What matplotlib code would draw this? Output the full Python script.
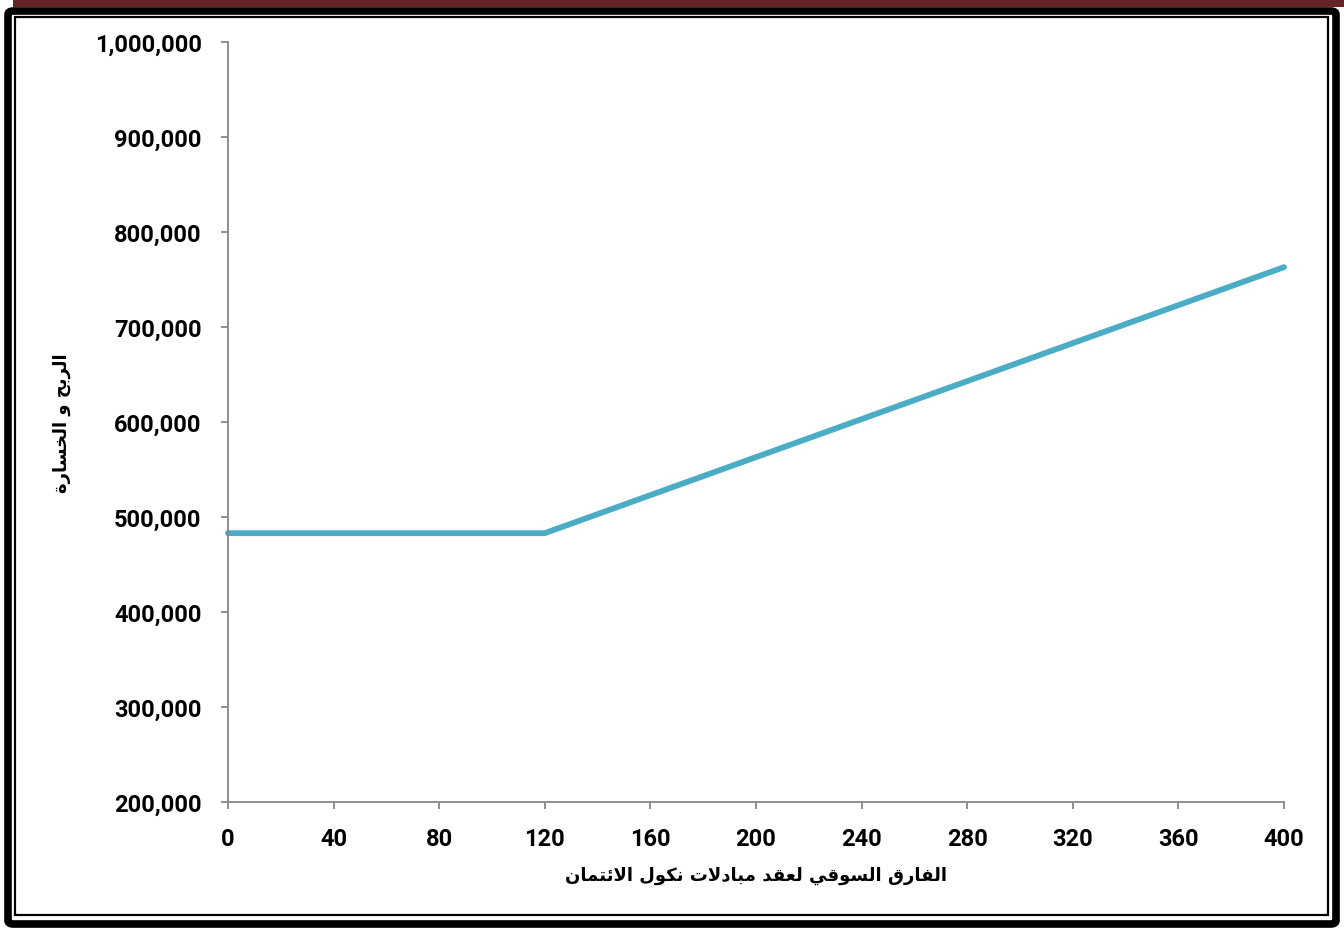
import matplotlib
matplotlib.use("Agg")
import matplotlib.pyplot as plt
from matplotlib.patches import Rectangle, FancyBboxPatch
from matplotlib.ticker import FuncFormatter

# spread (bp) and profit/loss values
spread = [0, 40, 80, 120, 160, 200, 240, 280, 320, 360, 400]
pnl = [483000, 483000, 483000, 483000, 523000, 563000, 603000, 643000, 683000, 723000, 763000]

x_ticks = [0, 40, 80, 120, 160, 200, 240, 280, 320, 360, 400]
y_ticks = [200000, 300000, 400000, 500000, 600000, 700000, 800000, 900000, 1000000]

x_title = "الفارق السوقي لعقد مبادلات نكول الائتمان"
y_title = "الربح و الخسارة"

# Arabic presentation forms: (isolated, final, initial, medial)
FORMS = {
    "\u0626": ("\uFE89", "\uFE8A", "\uFE8B", "\uFE8C"),
    "\u0627": ("\uFE8D", "\uFE8E"),
    "\u0628": ("\uFE8F", "\uFE90", "\uFE91", "\uFE92"),
    "\u0629": ("\uFE93", "\uFE94"),
    "\u062A": ("\uFE95", "\uFE96", "\uFE97", "\uFE98"),
    "\u062C": ("\uFE9D", "\uFE9E", "\uFE9F", "\uFEA0"),
    "\u062D": ("\uFEA1", "\uFEA2", "\uFEA3", "\uFEA4"),
    "\u062E": ("\uFEA5", "\uFEA6", "\uFEA7", "\uFEA8"),
    "\u062F": ("\uFEA9", "\uFEAA"),
    "\u0631": ("\uFEAD", "\uFEAE"),
    "\u0633": ("\uFEB1", "\uFEB2", "\uFEB3", "\uFEB4"),
    "\u0639": ("\uFEC9", "\uFECA", "\uFECB", "\uFECC"),
    "\u0641": ("\uFED1", "\uFED2", "\uFED3", "\uFED4"),
    "\u0642": ("\uFED5", "\uFED6", "\uFED7", "\uFED8"),
    "\u0643": ("\uFED9", "\uFEDA", "\uFEDB", "\uFEDC"),
    "\u0644": ("\uFEDD", "\uFEDE", "\uFEDF", "\uFEE0"),
    "\u0645": ("\uFEE1", "\uFEE2", "\uFEE3", "\uFEE4"),
    "\u0646": ("\uFEE5", "\uFEE6", "\uFEE7", "\uFEE8"),
    "\u0648": ("\uFEED", "\uFEEE"),
    "\u064A": ("\uFEF1", "\uFEF2", "\uFEF3", "\uFEF4"),
}
LAM, ALEF = "\u0644", "\u0627"


def shape_arabic(text):
    # join letters into contextual forms, then reverse for left-to-right drawing
    out = []
    i = 0
    n = len(text)
    while i < n:
        ch = text[i]
        if ch not in FORMS:
            out.append(ch)
            i += 1
            continue
        prev = text[i - 1] if i > 0 else ""
        joins_prev = prev in FORMS and len(FORMS[prev]) == 4
        if ch == LAM and i + 1 < n and text[i + 1] == ALEF:
            out.append("\uFEFC" if joins_prev else "\uFEFB")
            i += 2
            continue
        nxt = text[i + 1] if i + 1 < n else ""
        joins_next = len(FORMS[ch]) == 4 and nxt in FORMS
        f = FORMS[ch]
        if joins_prev and joins_next:
            out.append(f[3])
        elif joins_prev:
            out.append(f[1])
        elif joins_next:
            out.append(f[2])
        else:
            out.append(f[0])
        i += 1
    return "".join(out)[::-1]


W, H = 1344, 929
fig = plt.figure(figsize=(W / 100, H / 100), dpi=100)
ax = fig.add_axes([228 / W, 1 - 803 / H, (1284 - 228) / W, (803 - 43) / H])

ax.plot(spread, pnl, color="#4BACC6", lw=4.2, solid_capstyle="round",
        solid_joinstyle="miter", clip_on=False)

ax.set_xlim(0, 400)
ax.set_ylim(200000, 1000000)
ax.set_xticks(x_ticks)
ax.set_yticks(y_ticks)
ax.yaxis.set_major_formatter(FuncFormatter(lambda v, p: f"{int(v):,}"))

for s in ["top", "right"]:
    ax.spines[s].set_visible(False)
for s in ["left", "bottom"]:
    ax.spines[s].set_color("#868686")
    ax.spines[s].set_linewidth(1.3)
ax.tick_params(axis="both", direction="out", length=5, width=1.3, color="#868686",
               labelsize=17, labelcolor="black")
ax.tick_params(axis="y", pad=14)
ax.tick_params(axis="x", pad=13)
for lab in ax.get_xticklabels() + ax.get_yticklabels():
    lab.set_fontfamily("Roboto")
    lab.set_fontweight("bold")

ax.set_xlabel(shape_arabic(x_title), fontfamily="DejaVu Sans", fontweight="bold",
              fontsize=13, labelpad=11)
ax.set_ylabel(shape_arabic(y_title), fontfamily="DejaVu Sans", fontweight="bold",
              fontsize=13, labelpad=17)


def px(x0, y0, x1, y1):
    # image pixel box -> figure fraction (left, bottom, width, height)
    return x0 / W, 1 - y1 / H, (x1 - x0) / W, (y1 - y0) / H


# dark red strip along the top
l, b, w, h = px(13, 0, W, 8)
fig.add_artist(Rectangle((l, b), w, h, transform=fig.transFigure,
                         facecolor="#632523", edgecolor="none"))
# thick outer frame
l, b, w, h = px(8, 12, 1336, 925)
fig.add_artist(FancyBboxPatch((l, b), w, h, boxstyle="round,pad=0,rounding_size=0.004",
                              transform=fig.transFigure, facecolor="none",
                              edgecolor="black", lw=5.5))
# thin inner frame
l, b, w, h = px(15, 18, 1328, 916)
fig.add_artist(Rectangle((l, b), w, h, transform=fig.transFigure,
                         facecolor="none", edgecolor="black", lw=1.6))

fig.savefig("out.png", dpi=100)
